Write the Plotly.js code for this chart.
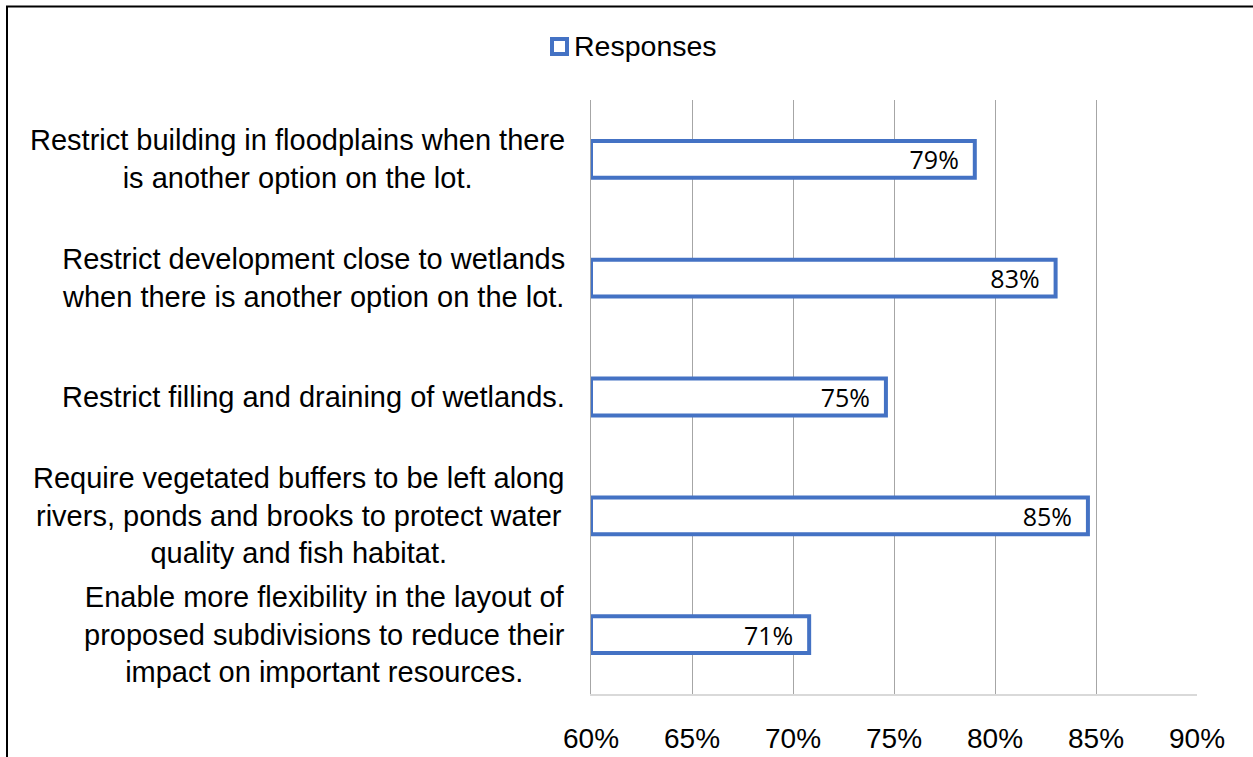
<!DOCTYPE html>
<html>
<head>
<meta charset="utf-8">
<script src="https://cdn.plot.ly/plotly-3.0.1.min.js"></script>
<style>
html,body{margin:0;padding:0;background:#fff;}
#chart{width:1253px;height:757px;}
</style>
</head>
<body>
<div id="chart"></div>
<script>
const categories = [
  "Restrict building in floodplains when there<br>is another option on the lot.",
  "Restrict development close to wetlands<br>when there is another option on the lot.",
  "Restrict filling and draining of wetlands.",
  "Require vegetated buffers to be left along<br>rivers, ponds and brooks to protect water<br>quality and fish habitat.",
  "Enable more flexibility in the layout of<br>proposed subdivisions to reduce their<br>impact on important resources."
];
const responses = [0.790, 0.830, 0.746, 0.846, 0.708];
const seriesName = "Responses";
const xTickVals = [0.60, 0.65, 0.70, 0.75, 0.80, 0.85, 0.90];
const xTickText = ["60%", "65%", "70%", "75%", "80%", "85%", "90%"];
const axisMin = 0.60, axisMax = 0.90;

const FONT = 'Arial, "Liberation Sans", sans-serif';
const BLUE = '#4472C4';

const trace = {
  type: 'bar',
  orientation: 'h',
  name: seriesName,
  y: categories,
  x: responses.map(v => v - axisMin),
  base: axisMin,
  customdata: responses,
  width: 0.31,
  marker: {color: '#ffffff', line: {color: BLUE, width: 4}},
  texttemplate: '%{customdata:.0%}\u00a0\u00a0',
  textposition: 'inside',
  insidetextanchor: 'end',
  textangle: 0,
  constraintext: 'none',
  insidetextfont: {family: '"Open Sans", sans-serif', size: 25, color: '#000000'},
  cliponaxis: false,
  hoverinfo: 'skip',
  showlegend: false
};

const annotations = categories.map(c => ({
  xref: 'paper', yref: 'y', x: 0, y: c, xshift: -24,
  xanchor: 'right', yanchor: 'middle', align: 'center',
  text: c, showarrow: false,
  font: {family: FONT, size: 29, color: '#000000'}
}));
// legend text
annotations.push({
  xref: 'paper', yref: 'paper', x: (572-591)/606, y: 1 + (100-46)/594,
  xanchor: 'left', yanchor: 'middle', text: seriesName, showarrow: false,
  font: {family: FONT, size: 28.5, color: '#000000'}
});

const layout = {
  width: 1253, height: 757,
  margin: {l: 591, r: 56, t: 100, b: 63},
  paper_bgcolor: '#ffffff', plot_bgcolor: '#ffffff',
  font: {family: FONT, size: 28, color: '#000000'},
  showlegend: false,
  xaxis: {
    range: [axisMin, axisMax], tickvals: xTickVals, ticktext: xTickText,
    showgrid: true, gridcolor: '#a6a6a6', gridwidth: 1,
    showline: true, linecolor: '#d9d9d9', linewidth: 2,
    zeroline: false, ticks: 'outside', ticklen: 18, tickcolor: 'rgba(0,0,0,0)',
    tickfont: {family: FONT, size: 28, color: '#000000'},
    fixedrange: true
  },
  yaxis: {
    type: 'category', categoryorder: 'array', categoryarray: categories,
    autorange: 'reversed', showticklabels: false, showgrid: false,
    showline: true, linecolor: '#a6a6a6', linewidth: 1, zeroline: false, ticks: '',
    fixedrange: true
  },
  annotations: annotations,
  shapes: [
    {type: 'line', xref: 'paper', yref: 'paper', x0: (7-591)/606, x1: (7-591)/606,
     y0: 1 + (100-6)/594, y1: -0.3, line: {color: '#000000', width: 2}},
    {type: 'line', xref: 'paper', yref: 'paper', x0: (6-591)/606, x1: 1.2,
     y0: 1 + (100-6.5)/594, y1: 1 + (100-6.5)/594, line: {color: '#000000', width: 2}},
    {type: 'rect', xref: 'paper', yref: 'paper',
     x0: (552-591)/606, x1: (567-591)/606, y0: 1 + (100-54)/594, y1: 1 + (100-39)/594,
     fillcolor: '#ffffff', line: {color: BLUE, width: 4}}
  ]
};

Plotly.newPlot('chart', [trace], layout, {displayModeBar: false, staticPlot: true});
</script>
</body>
</html>
